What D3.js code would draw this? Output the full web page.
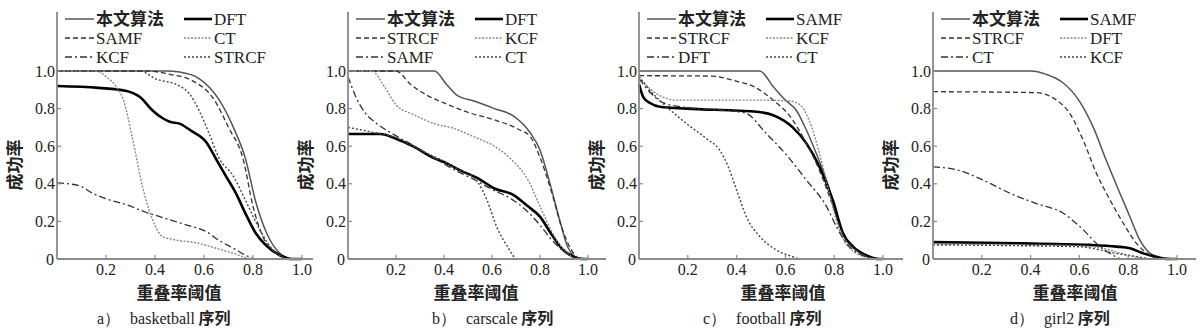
<!DOCTYPE html>
<html><head><meta charset="utf-8">
<script src="https://cdn.jsdelivr.net/npm/d3@7"></script>
<style>body{margin:0;background:#fff}svg{display:block}</style>
</head><body><svg id="c" width="1200" height="336"></svg>
<script>
// ---------- data ----------
const xTickValues = [0.2, 0.4, 0.6, 0.8, 1.0];
const xTickLabels = ["0.2", "0.4", "0.6", "0.8", "1.0"];
const yTickValues = [0, 0.2, 0.4, 0.6, 0.8, 1.0];
const yTickLabels = ["0", "0.2", "0.4", "0.6", "0.8", "1.0"];
const xAxisTitle = "重叠率阈值";
const yAxisTitle = "成功率";
const panelLetters = ["a）", "b）", "c）", "d）"];
const sequenceNames = ["basketball", "carscale", "football", "girl2"];
const seqSuffix = " 序列";

// legend order per panel (row-major: left,right per row)
const legendA = ["本文算法", "DFT", "SAMF", "CT", "KCF", "STRCF"];
const legendB = ["本文算法", "DFT", "STRCF", "KCF", "SAMF", "CT"];
const legendC = ["本文算法", "SAMF", "STRCF", "KCF", "DFT", "CT"];
const legendD = ["本文算法", "SAMF", "STRCF", "DFT", "CT", "KCF"];

// basketball
const a_ours  = [[0,1],[0.45,1],[0.5,0.995],[0.58,0.96],[0.66,0.85],[0.72,0.70],[0.77,0.53],[0.81,0.31],[0.855,0.14],[0.91,0.03],[0.96,0],[1,0]];
const a_dft   = [[0,0.92],[0.17,0.91],[0.28,0.895],[0.34,0.86],[0.39,0.79],[0.43,0.75],[0.46,0.73],[0.50,0.72],[0.55,0.68],[0.61,0.62],[0.65,0.53],[0.69,0.44],[0.73,0.35],[0.77,0.24],[0.81,0.14],[0.855,0.07],[0.91,0.02],[0.96,0],[1,0]];
const a_samf  = [[0,1],[0.36,1],[0.47,0.98],[0.55,0.95],[0.64,0.85],[0.70,0.70],[0.76,0.53],[0.80,0.28],[0.84,0.12],[0.90,0.03],[0.95,0],[1,0]];
const a_ct    = [[0,1],[0.16,1],[0.2,0.97],[0.24,0.92],[0.27,0.85],[0.31,0.63],[0.35,0.38],[0.39,0.21],[0.43,0.12],[0.47,0.105],[0.58,0.083],[0.65,0.057],[0.72,0.03],[0.80,0],[1,0]];
const a_kcf   = [[0,0.405],[0.09,0.39],[0.145,0.35],[0.2,0.32],[0.28,0.29],[0.36,0.25],[0.445,0.215],[0.53,0.18],[0.61,0.145],[0.66,0.10],[0.72,0.057],[0.77,0.02],[0.81,0],[1,0]];
const a_strcf = [[0,1],[0.34,1],[0.40,0.96],[0.50,0.92],[0.54,0.88],[0.58,0.79],[0.62,0.67],[0.66,0.54],[0.72,0.44],[0.77,0.31],[0.83,0.15],[0.88,0.05],[0.95,0],[1,0]];

// carscale
const b_ours  = [[0,1],[0.36,1],[0.41,0.93],[0.455,0.87],[0.525,0.84],[0.61,0.80],[0.69,0.76],[0.76,0.67],[0.80,0.58],[0.845,0.385],[0.89,0.17],[0.915,0.065],[0.957,0.007],[1,0]];
const b_dft   = [[0,0.665],[0.135,0.665],[0.2,0.64],[0.27,0.60],[0.36,0.535],[0.41,0.51],[0.47,0.47],[0.54,0.43],[0.61,0.375],[0.69,0.34],[0.75,0.28],[0.80,0.225],[0.845,0.137],[0.89,0.057],[0.94,0.012],[0.97,0],[1,0]];
const b_strcf = [[0,1],[0.2,1],[0.26,0.93],[0.33,0.87],[0.40,0.83],[0.50,0.78],[0.61,0.74],[0.71,0.69],[0.76,0.65],[0.80,0.54],[0.845,0.37],[0.89,0.17],[0.93,0.05],[0.97,0],[1,0]];
const b_kcf   = [[0,1],[0.1,1],[0.15,0.92],[0.2,0.82],[0.27,0.77],[0.36,0.72],[0.44,0.695],[0.525,0.65],[0.61,0.60],[0.68,0.53],[0.75,0.42],[0.80,0.28],[0.86,0.12],[0.915,0.03],[0.957,0],[1,0]];
const b_samf  = [[0,0.97],[0.03,0.87],[0.07,0.78],[0.12,0.72],[0.18,0.67],[0.25,0.62],[0.35,0.545],[0.45,0.47],[0.53,0.42],[0.6,0.37],[0.68,0.32],[0.75,0.25],[0.8,0.18],[0.85,0.10],[0.9,0.04],[0.95,0.005],[1,0]];
const b_ct    = [[0,0.70],[0.1,0.675],[0.2,0.645],[0.3,0.58],[0.4,0.52],[0.47,0.47],[0.5,0.455],[0.54,0.41],[0.58,0.31],[0.62,0.17],[0.665,0.065],[0.705,0],[1,0]];

// football
const c_ours  = [[0,1],[0.495,1],[0.55,0.917],[0.60,0.845],[0.645,0.79],[0.686,0.686],[0.727,0.56],[0.768,0.42],[0.81,0.225],[0.85,0.10],[0.905,0.04],[0.97,0],[1,0]];
const c_samf  = [[0,0.93],[0.018,0.86],[0.045,0.83],[0.086,0.81],[0.195,0.80],[0.386,0.79],[0.47,0.785],[0.55,0.765],[0.63,0.70],[0.686,0.615],[0.74,0.49],[0.795,0.31],[0.836,0.137],[0.877,0.066],[0.93,0.02],[0.986,0],[1,0]];
const c_strcf = [[0,0.975],[0.30,0.973],[0.386,0.95],[0.47,0.917],[0.55,0.845],[0.62,0.757],[0.686,0.615],[0.74,0.47],[0.795,0.28],[0.836,0.128],[0.89,0.048],[0.96,0.005],[1,0]];
const c_kcf   = [[0,0.97],[0.05,0.90],[0.1,0.86],[0.15,0.845],[0.3,0.845],[0.5,0.845],[0.62,0.84],[0.66,0.82],[0.7,0.73],[0.74,0.56],[0.78,0.35],[0.81,0.2],[0.84,0.1],[0.88,0.04],[0.93,0.01],[0.97,0],[1,0]];
const c_dft   = [[0,0.96],[0.05,0.88],[0.1,0.83],[0.2,0.805],[0.3,0.795],[0.4,0.785],[0.44,0.775],[0.52,0.67],[0.6,0.56],[0.686,0.42],[0.768,0.28],[0.81,0.17],[0.85,0.083],[0.9,0.03],[0.95,0.005],[1,0]];
const c_ct    = [[0,0.97],[0.05,0.89],[0.113,0.81],[0.195,0.72],[0.277,0.64],[0.33,0.58],[0.366,0.49],[0.40,0.367],[0.44,0.225],[0.495,0.12],[0.563,0.048],[0.63,0.012],[0.66,0],[1,0]];

// girl2
const d_ours  = [[0,1],[0.40,1],[0.465,0.982],[0.53,0.94],[0.60,0.84],[0.657,0.70],[0.71,0.525],[0.766,0.35],[0.807,0.225],[0.848,0.10],[0.89,0.03],[0.93,0.01],[1,0]];
const d_samf  = [[0,0.09],[0.37,0.083],[0.643,0.075],[0.752,0.066],[0.807,0.057],[0.862,0.03],[0.917,0.01],[0.958,0],[1,0]];
const d_strcf = [[0,0.89],[0.42,0.885],[0.506,0.845],[0.56,0.775],[0.616,0.63],[0.67,0.455],[0.725,0.315],[0.78,0.19],[0.834,0.083],[0.89,0.02],[0.944,0],[1,0]];
const d_dft   = [[0,0.08],[0.4,0.075],[0.6,0.07],[0.7,0.055],[0.8,0.02],[0.85,0.005],[0.9,0],[1,0]];
const d_ct    = [[0,0.49],[0.096,0.475],[0.205,0.42],[0.315,0.35],[0.424,0.295],[0.534,0.243],[0.616,0.155],[0.67,0.083],[0.725,0.03],[0.78,0],[1,0]];
const d_kcf   = [[0,0.075],[0.4,0.07],[0.6,0.065],[0.75,0.03],[0.85,0.01],[0.9,0],[1,0]];

const panelLegends = [legendA, legendB, legendC, legendD];
const panelSeries = [
  [a_ours, a_dft, a_samf, a_ct, a_kcf, a_strcf],
  [b_ours, b_dft, b_strcf, b_kcf, b_samf, b_ct],
  [c_ours, c_samf, c_strcf, c_kcf, c_dft, c_ct],
  [d_ours, d_samf, d_strcf, d_dft, d_ct, d_kcf]
];

// ---------- layout / styles ----------
const layout = [
  {ax: 57,  x1: 302,  xEnd: 313,  xTitle: 179,  cap: 97},
  {ax: 348, x1: 588,  xEnd: 606,  xTitle: 476,  cap: 432},
  {ax: 639, x1: 883,  xEnd: 903,  xTitle: 783,  cap: 703},
  {ax: 933, x1: 1177, xEnd: 1196, xTitle: 1075, cap: 1010}
];
const slotStyles = [
  {stroke: "#555", width: 1.5, dash: null},
  {stroke: "#000", width: 2.6, dash: null},
  {stroke: "#333", width: 1.3, dash: "5,3"},
  {stroke: "#888", width: 1.4, dash: "2,1.5"},
  {stroke: "#333", width: 1.3, dash: "7,3,2,3"},
  {stroke: "#444", width: 1.4, dash: "2,2"}
];
const serif = "'Liberation Serif','Times New Roman',serif";
const cjk = "'Noto Sans CJK SC','Noto Sans CJK JP',sans-serif";
const axisColor = "#8a8a8a";

const svg = d3.select("#c");
const y = d3.scaleLinear().domain([0, 1]).range([259, 71]);

layout.forEach((L, p) => {
  const g = svg.append("g");
  const x = d3.scaleLinear().domain([0, 1]).range([L.ax, L.x1]);

  // curves
  const line = d3.line().x(d => x(d[0])).y(d => y(d[1])).curve(d3.curveMonotoneX);
  panelSeries[p].forEach((s, i) => {
    const st = slotStyles[i];
    g.append("path").attr("d", line(s)).attr("fill", "none")
      .attr("stroke", st.stroke).attr("stroke-width", st.width)
      .attr("stroke-dasharray", st.dash).attr("stroke-linejoin", "round");
  });

  // axes
  g.append("line").attr("x1", L.ax).attr("x2", L.ax).attr("y1", 12).attr("y2", y(0))
    .attr("stroke", axisColor).attr("stroke-width", 1.8);
  g.append("line").attr("x1", L.ax).attr("x2", L.xEnd).attr("y1", y(0)).attr("y2", y(0))
    .attr("stroke", axisColor).attr("stroke-width", 1.8);

  xTickValues.forEach((v, i) => {
    g.append("line").attr("x1", x(v)).attr("x2", x(v)).attr("y1", y(0)).attr("y2", y(0) - 4)
      .attr("stroke", axisColor).attr("stroke-width", 1.2);
    g.append("text").attr("x", x(v)).attr("y", y(0) + 15.5).attr("text-anchor", "middle")
      .attr("font-family", serif).attr("font-size", 16).attr("fill", "#222").text(xTickLabels[i]);
  });
  yTickValues.forEach((v, i) => {
    if (v > 0) g.append("line").attr("x1", L.ax).attr("x2", L.ax + 4).attr("y1", y(v)).attr("y2", y(v))
      .attr("stroke", axisColor).attr("stroke-width", 1.2);
    g.append("text").attr("x", L.ax - (v === 0 ? 3 : 2)).attr("y", y(v)).attr("dy", "0.35em")
      .attr("text-anchor", "end").attr("font-family", serif).attr("font-size", 16)
      .attr("fill", "#222").text(yTickLabels[i]);
  });

  // axis titles
  g.append("text").attr("transform", `translate(${L.ax - 42},${y(0.5)}) rotate(-90)`)
    .attr("text-anchor", "middle").attr("dy", "0.35em").attr("font-family", cjk)
    .attr("font-weight", "bold").attr("font-size", 17).attr("fill", "#222").text(yAxisTitle);
  g.append("text").attr("x", L.xTitle).attr("y", 299).attr("text-anchor", "middle")
    .attr("font-family", cjk).attr("font-weight", "bold").attr("font-size", 17)
    .attr("fill", "#222").text(xAxisTitle);

  // caption
  const cap = g.append("text").attr("x", L.cap).attr("y", 324).attr("font-family", serif)
    .attr("font-size", 16).attr("fill", "#222").attr("xml:space", "preserve");
  cap.append("tspan").text(panelLetters[p]);
  cap.append("tspan").attr("dx", 10).text(sequenceNames[p]);
  cap.append("tspan").attr("font-family", cjk).attr("font-weight", "bold").text(seqSuffix);

  // legend
  const rowY = [19, 38, 57];
  panelLegends[p].forEach((name, i) => {
    const row = Math.floor(i / 2), col = i % 2;
    const st = slotStyles[i];
    const lx0 = L.ax + (col === 0 ? 8 : 127), lx1 = L.ax + (col === 0 ? 37 : 155);
    g.append("line").attr("x1", lx0).attr("x2", lx1).attr("y1", rowY[row]).attr("y2", rowY[row])
      .attr("stroke", st.stroke).attr("stroke-width", st.width).attr("stroke-dasharray", st.dash);
    const isCjk = /[\u4e00-\u9fff]/.test(name);
    g.append("text").attr("x", lx1 + 2).attr("y", rowY[row]).attr("dy", "0.35em")
      .attr("font-family", isCjk ? cjk : serif).attr("font-weight", isCjk ? "bold" : null)
      .attr("font-size", isCjk ? 17 : 17).attr("fill", "#222").text(name);
  });
});
</script>
</body></html>
